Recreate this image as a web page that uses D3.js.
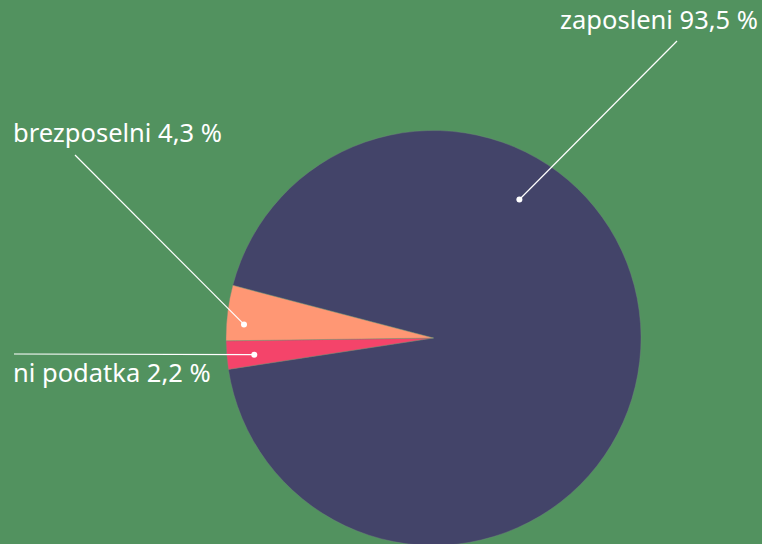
<!DOCTYPE html>
<html>
<head>
<meta charset="utf-8">
<script src="https://cdn.jsdelivr.net/npm/d3@7"></script>
<style>
  html, body { margin: 0; padding: 0; background: #52925f; }
  svg { display: block; }
  text { font-family: "Noto Sans", "Open Sans", sans-serif; fill: #fff; }
</style>
</head>
<body>
<div id="chart"></div>
<script>
// share of graduates by status (%)
var categories = ["zaposleni", "ni podatka", "brezposelni"];
var values = [93.5, 2.2, 4.3];
var labels = ["zaposleni 93,5 %", "ni podatka 2,2 %", "brezposelni 4,3 %"];
var colors = ["#434469", "#f4446a", "#ff9774"];

var width = 762, height = 544;
var cx = 433.5, cy = 338, radius = 207.5;

var svg = d3.select("#chart").append("svg")
    .attr("width", width)
    .attr("height", height);

svg.append("rect")
    .attr("width", width)
    .attr("height", height)
    .attr("fill", "#52925f");

var deg = Math.PI / 180;

var pie = d3.pie()
    .sort(null)
    .startAngle(-75.3 * deg)
    .endAngle(284.7 * deg);

var arcs = pie(values);

var arc = d3.arc().innerRadius(0).outerRadius(radius);

var g = svg.append("g").attr("transform", "translate(" + cx + "," + cy + ")");

g.selectAll("path")
    .data(arcs)
    .enter().append("path")
    .attr("d", arc)
    .attr("fill", function(d, i) { return colors[i]; })
    .attr("stroke", "#6f8a78")
    .attr("stroke-width", 0.4);

// where each leader line starts (angle in slice, radius) and where it ends
var callouts = [
  { angle: 31.8, r: 163, end: [677, 41], text: [758, 29], anchor: "end" },
  { angle: 264.7, r: 180, end: [14, 354], text: [13, 382], anchor: "start" },
  { angle: 274.1, r: 190, end: [75, 155], text: [13, 142], anchor: "start" }
];

callouts.forEach(function(c, i) {
  var a = c.angle * deg;
  var x = cx + Math.sin(a) * c.r;
  var y = cy - Math.cos(a) * c.r;

  svg.append("line")
      .attr("x1", x).attr("y1", y)
      .attr("x2", c.end[0]).attr("y2", c.end[1])
      .attr("stroke", "#fff")
      .attr("stroke-width", 1.2);

  svg.append("circle")
      .attr("cx", x).attr("cy", y)
      .attr("r", 3)
      .attr("fill", "#fff");

  svg.append("text")
      .attr("x", c.text[0])
      .attr("y", c.text[1])
      .attr("text-anchor", c.anchor)
      .style("font-size", "25.5px")
      .style("font-weight", 400)
      .text(labels[i]);
});
</script>
</body>
</html>
